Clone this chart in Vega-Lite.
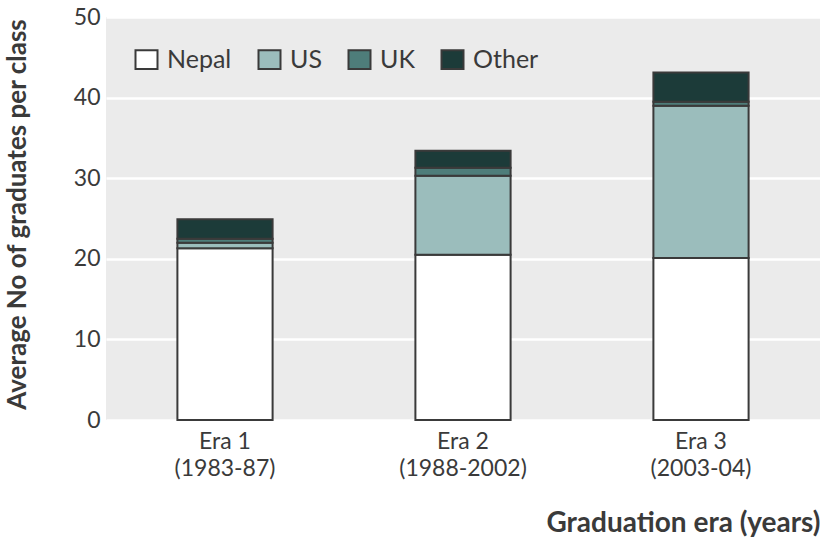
{
  "$schema": "https://vega.github.io/schema/vega-lite/v6.json",
  "autosize": {"type": "none"},
  "width": 714,
  "height": 403,
  "padding": {"left": 106, "top": 17, "right": 0, "bottom": 120},
  "background": "white",
  "config": {
    "font": "Lato",
    "view": {"fill": "#ebebeb", "stroke": null},
    "axis": {"labelFont": "Lato", "titleFont": "Lato", "labelColor": "#3a3a3a", "titleColor": "#3a3a3a"}
  },
  "data": {
    "values": [
      {"era": "Era 1\n(1983-87)", "origin": "Nepal", "ord": 1, "value": 21.3},
      {"era": "Era 1\n(1983-87)", "origin": "US", "ord": 2, "value": 0.7},
      {"era": "Era 1\n(1983-87)", "origin": "UK", "ord": 3, "value": 0.5},
      {"era": "Era 1\n(1983-87)", "origin": "Other", "ord": 4, "value": 2.4},
      {"era": "Era 2\n(1988-2002)", "origin": "Nepal", "ord": 1, "value": 20.5},
      {"era": "Era 2\n(1988-2002)", "origin": "US", "ord": 2, "value": 9.8},
      {"era": "Era 2\n(1988-2002)", "origin": "UK", "ord": 3, "value": 1.0},
      {"era": "Era 2\n(1988-2002)", "origin": "Other", "ord": 4, "value": 2.1},
      {"era": "Era 3\n(2003-04)", "origin": "Nepal", "ord": 1, "value": 20.1},
      {"era": "Era 3\n(2003-04)", "origin": "US", "ord": 2, "value": 18.9},
      {"era": "Era 3\n(2003-04)", "origin": "UK", "ord": 3, "value": 0.5},
      {"era": "Era 3\n(2003-04)", "origin": "Other", "ord": 4, "value": 3.6}
    ]
  },
  "mark": {"type": "bar", "stroke": "#3a3a3a", "strokeWidth": 2},
  "encoding": {
    "x": {
      "field": "era", "type": "nominal", "sort": null,
      "scale": {"paddingInner": 0.6, "paddingOuter": 0.3},
      "axis": {
        "title": "Graduation era (years)",
        "labelAngle": 0,
        "labelExpr": "split(datum.label, '\\n')",
        "labelFontSize": 23,
        "labelLineHeight": 27,
        "labelPadding": 10,
        "ticks": false,
        "domain": false,
        "titleFontSize": 28,
        "titleFontWeight": "bold",
        "titleAnchor": "end",
        "titleAlign": "right",
        "titleX": 714,
        "titleY": 111,
        "titleBaseline": "alphabetic"
      }
    },
    "y": {
      "field": "value", "type": "quantitative", "stack": "zero",
      "scale": {"domain": [0, 50]},
      "axis": {
        "title": "Average No of graduates per class",
        "values": [0, 10, 20, 30, 40, 50],
        "labelFontSize": 23,
        "labelPadding": 6,
        "ticks": false,
        "domain": false,
        "grid": true,
        "gridColor": "white",
        "gridWidth": 2.5,
        "titleFontSize": 26,
        "titleFontWeight": "bold",
        "titleX": -81,
        "titleY": 197,
        "titleBaseline": "alphabetic",
        "titleAnchor": "middle"
      }
    },
    "color": {
      "field": "origin", "type": "nominal",
      "scale": {"domain": ["Nepal", "US", "UK", "Other"], "range": ["#ffffff", "#9bbdbc", "#4e7d7a", "#1c3b39"]},
      "legend": {
        "title": null,
        "orient": "none",
        "legendX": 28,
        "legendY": 30,
        "direction": "horizontal",
        "symbolType": "M-1,-0.85H1V0.85H-1Z",
        "symbolSize": 484,
        "symbolStrokeColor": "#3a3a3a",
        "symbolStrokeWidth": 2,
        "symbolOpacity": 1,
        "labelFontSize": 25,
        "labelColor": "#3a3a3a",
        "labelOffset": 8,
        "columnPadding": 22
      }
    },
    "order": {"field": "ord", "type": "quantitative"}
  }
}
